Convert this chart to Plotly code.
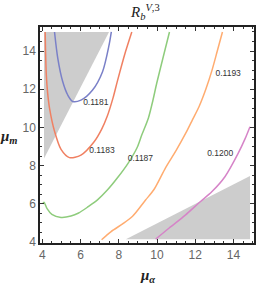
import plotly.graph_objects as go

# contour levels
levels = ["0.1181", "0.1183", "0.1187", "0.1193", "0.1200"]

# contour curves (mu_alpha, mu_m)
c1181_x = [4.64, 4.81, 5.07, 5.33, 5.59, 6.02, 6.63, 7.15, 7.49, 7.61]
c1181_y = [15.0, 13.62, 12.39, 11.7, 11.36, 11.43, 11.96, 12.92, 14.31, 15.0]

c1183_x = [4.15, 4.17, 4.21, 4.28, 4.38, 4.64, 4.98, 5.42, 6.02, 6.71, 7.1, 7.4, 7.7, 7.92, 8.35, 8.68]
c1183_y = [15.0, 14.0, 12.75, 11.8, 11.0, 9.8, 8.85, 8.42, 8.55, 9.25, 9.9, 10.6, 11.55, 12.4, 13.96, 15.0]

c1187_x = [4.02, 4.09, 4.25, 4.5, 4.98, 5.5, 5.9, 6.4, 6.9, 7.4, 7.92, 8.5, 8.96, 9.2, 9.55, 9.78, 9.98, 10.3, 10.65]
c1187_y = [6.0, 6.08, 5.75, 5.45, 5.29, 5.36, 5.52, 5.85, 6.22, 6.72, 7.35, 8.15, 8.95, 9.6, 10.5, 11.4, 12.3, 13.6, 15.0]

c1193_x = [7.1, 7.6, 8.2, 8.72, 9.4, 9.84, 10.45, 11.0, 11.5, 11.85, 12.2, 12.55, 12.86, 13.15, 13.42]
c1193_y = [4.12, 4.55, 4.95, 5.35, 6.2, 6.75, 7.9, 8.8, 9.7, 10.4, 11.1, 12.0, 12.95, 14.0, 15.0]

c1200_x = [9.93, 10.62, 11.48, 12.26, 12.86, 13.55, 14.24, 14.6, 14.86]
c1200_y = [4.15, 4.72, 5.41, 6.11, 6.63, 7.42, 8.64, 9.4, 10.04]

# excluded (gray) regions
gray_top_x = [4.09, 7.49, 4.09]
gray_top_y = [15.0, 15.0, 8.38]
gray_bot_x = [8.37, 14.86, 14.86]
gray_bot_y = [4.15, 7.46, 4.15]

# contour label positions
label_x = [6.8, 7.12, 9.13, 13.72, 13.3]
label_y = [11.31, 8.76, 8.33, 12.83, 8.64]

curves = [(c1181_x, c1181_y), (c1183_x, c1183_y), (c1187_x, c1187_y),
          (c1193_x, c1193_y), (c1200_x, c1200_y)]
colors = ["rgb(122,128,200)", "rgb(240,128,98)", "rgb(142,204,124)",
          "rgb(255,172,112)", "rgb(214,132,200)"]

fig = go.Figure()
for gx, gy in [(gray_top_x, gray_top_y), (gray_bot_x, gray_bot_y)]:
    fig.add_trace(go.Scatter(x=gx, y=gy, fill="toself", mode="lines",
                             line=dict(width=0, color="rgba(0,0,0,0)"),
                             fillcolor="rgb(205,205,205)", hoverinfo="skip",
                             showlegend=False))
for (cx, cy), col in zip(curves, colors):
    fig.add_trace(go.Scatter(x=cx, y=cy, mode="lines",
                             line=dict(color=col, width=1.5, shape="spline", smoothing=0.8),
                             showlegend=False))
fig.add_trace(go.Scatter(x=label_x, y=label_y, mode="text", text=levels,
                         textfont=dict(family="Liberation Sans", size=8.5, color="#333"),
                         showlegend=False))

axis_common = dict(showgrid=False, zeroline=False, showline=True, linecolor="#222",
                   linewidth=1.5, mirror="allticks", ticks="inside", ticklen=4,
                   tickwidth=1, tickcolor="#333", dtick=2,
                   tickfont=dict(family="Liberation Sans", size=12, color="#666"),
                   minor=dict(ticks="inside", ticklen=2, dtick=0.5, tickcolor="#333", tickwidth=0.8))

fig.update_xaxes(range=[3.88, 15.07], tick0=4, **axis_common)
fig.update_yaxes(range=[3.95, 15.26], tick0=4, **axis_common)

fig.add_annotation(text="<i>R</i><sub><i>b</i></sub><sup><i>V</i>,3</sup>", xref="paper", yref="paper",
                   x=0.49, y=1.069, xanchor="center", yanchor="middle", showarrow=False,
                   font=dict(family="Liberation Serif", size=15, color="#222"))
fig.add_annotation(text="<b><i>μ</i></b><sub><b><i>α</i></b></sub>", xref="paper", yref="paper",
                   x=0.5, y=-0.155, xanchor="center", yanchor="middle", showarrow=False,
                   font=dict(family="Liberation Serif", size=15, color="#222"))
fig.add_annotation(text="<b><i>μ</i></b><sub><b><i>m</i></b></sub>", xref="paper", yref="paper",
                   x=-0.145, y=0.49, xanchor="center", yanchor="middle", showarrow=False,
                   font=dict(family="Liberation Serif", size=15, color="#222"))

fig.update_layout(width=258, height=284, margin=dict(l=40, r=2, t=27, b=41),
                  plot_bgcolor="white", paper_bgcolor="white")
fig.write_html("out.html", config={"displayModeBar": False},
               post_script="document.body.style.margin='0';")
